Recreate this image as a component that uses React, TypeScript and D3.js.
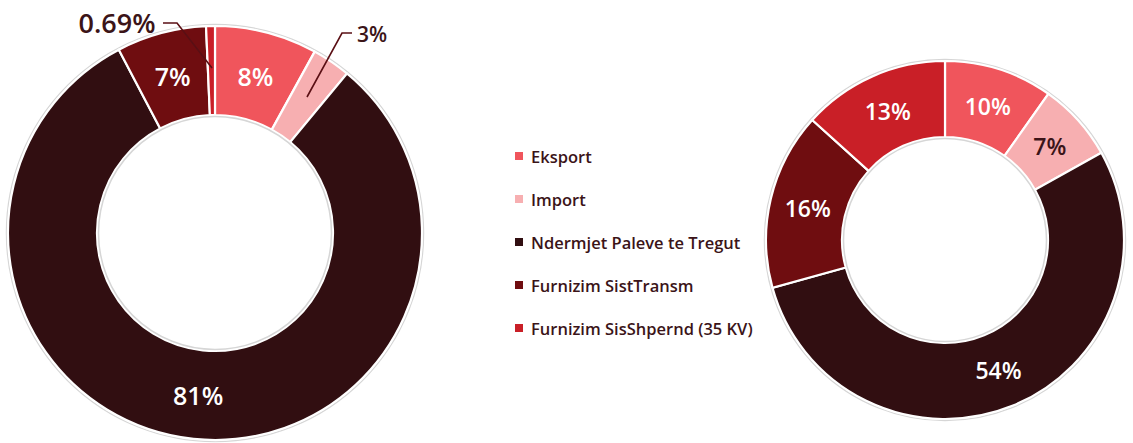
import React from "react";
import * as d3 from "d3";

const categories = [
  "Eksport",
  "Import",
  "Ndermjet Paleve te Tregut",
  "Furnizim SistTransm",
  "Furnizim SisShpernd (35 KV)",
];
const colors = ["#F0555C", "#F7AFB1", "#310E11", "#6F0D10", "#C91F27"];
const leftValues = [8.0, 3.0, 81.3, 7.0, 0.69];
const rightValues = [9.8, 7.1, 53.8, 16.0, 13.3];
const leftLabels = ["8%", "3%", "81%", "7%", "0.69%"];
const rightLabels = ["10%", "7%", "54%", "16%", "13%"];

const FONT = "'Open Sans', Lato, sans-serif";

type DonutProps = {
  cx: number;
  cy: number;
  outer: number;
  inner: number;
  values: number[];
  labels: string[];
  labelColors: string[];
  fontSize: number;
  outside?: { [i: number]: { text: [number, number]; path: [number, number][]; size: number; anchor: string } };
};

function Donut({ cx, cy, outer, inner, values, labels, labelColors, fontSize, outside }: DonutProps) {
  const pie = d3.pie<number>().sort(null).value((d) => d);
  const arcs = pie(values);
  const arc = d3.arc<d3.PieArcDatum<number>>().innerRadius(inner).outerRadius(outer);
  return (
    <g transform={`translate(${cx},${cy})`}>
      <circle r={outer + 1.5} fill="none" stroke="#d6d6d6" strokeWidth={1.5} />
      {arcs.map((a, i) => (
        <path key={i} d={arc(a) || ""} fill={colors[i]} stroke="#fff" strokeWidth={2.2} />
      ))}
      <circle r={inner - 1.5} fill="none" stroke="#d6d6d6" strokeWidth={1.5} />
      {arcs.map((a, i) => {
        if (outside && outside[i]) {
          const o = outside[i];
          return (
            <g key={"l" + i}>
              <path
                d={d3.line()(o.path.map(([x, y]) => [x - cx, y - cy])) || ""}
                fill="none"
                stroke="#5a0f14"
                strokeWidth={1.6}
              />
              <text
                x={o.text[0] - cx}
                y={o.text[1] - cy}
                textAnchor={o.anchor as any}
                dominantBaseline="central"
                fontFamily={FONT}
                fontWeight={600}
                fontSize={o.size}
                fill="#3B1418"
              >
                {labels[i]}
              </text>
            </g>
          );
        }
        const [x, y] = arc.centroid(a);
        return (
          <text
            key={"l" + i}
            x={x}
            y={y}
            textAnchor="middle"
            dominantBaseline="central"
            fontFamily={FONT}
            fontWeight={600}
            fontSize={fontSize}
            fill={labelColors[i]}
          >
            {labels[i]}
          </text>
        );
      })}
    </g>
  );
}

export default function App() {
  const legendY = d3.scalePoint<string>().domain(categories).range([156, 328]);
  return (
    <svg width={1133} height={443} style={{ position: "absolute", left: 0, top: 0 }}>
      <rect width={1133} height={443} fill="#fff" />
      <Donut
        cx={215}
        cy={233}
        outer={207}
        inner={118}
        values={leftValues}
        labels={leftLabels}
        labelColors={["#fff", "#fff", "#fff", "#fff", "#fff"]}
        fontSize={25}
        outside={{
          1: { text: [357, 34], path: [[352, 33], [342, 33], [307, 97]], size: 21, anchor: "start" },
          4: { text: [117, 22], path: [[163, 23], [177, 23], [212, 68]], size: 27, anchor: "middle" },
        }}
      />
      <Donut
        cx={945}
        cy={240}
        outer={179}
        inner={103}
        values={rightValues}
        labels={rightLabels}
        labelColors={["#fff", "#3B1418", "#fff", "#fff", "#fff"]}
        fontSize={23}
      />
      {categories.map((c, i) => (
        <g key={c} transform={`translate(515,${legendY(c)})`}>
          <rect x={0} y={-4} width={8} height={8} fill={colors[i]} />
          <text
            x={16}
            y={0}
            dominantBaseline="central"
            fontFamily={FONT}
            fontWeight={600}
            fontSize={16.5}
            fill="#3B1418"
          >
            {c}
          </text>
        </g>
      ))}
    </svg>
  );
}
